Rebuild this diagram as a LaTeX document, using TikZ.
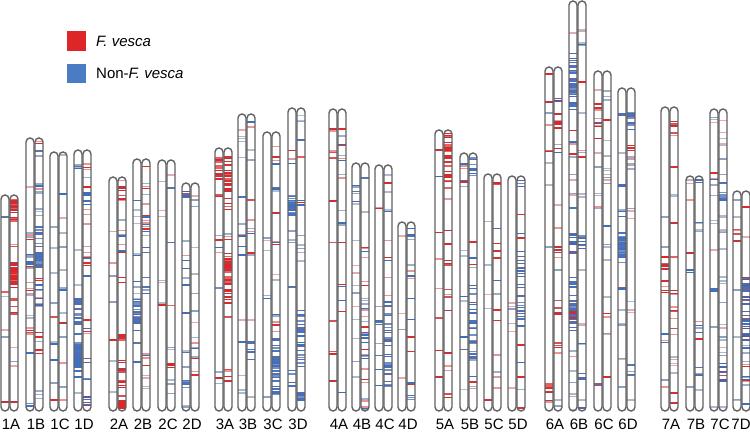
\documentclass[tikz,border=0pt]{standalone}
\usepackage{fontspec}
\setmainfont{Liberation Sans}
\definecolor{fred}{RGB}{222,38,40}
\definecolor{fblue}{RGB}{74,124,196}
\definecolor{cr1}{RGB}{224,38,38}
\definecolor{cr2}{RGB}{196,50,62}
\definecolor{cr3}{RGB}{232,150,150}
\definecolor{cr4}{RGB}{214,84,88}
\definecolor{cR1}{RGB}{226,36,36}
\definecolor{cR2}{RGB}{218,48,50}
\definecolor{cR3}{RGB}{200,46,62}
\definecolor{cR4}{RGB}{232,96,96}
\definecolor{cb1}{RGB}{62,110,190}
\definecolor{cb2}{RGB}{150,170,198}
\definecolor{cb3}{RGB}{88,118,172}
\definecolor{cb4}{RGB}{176,192,212}
\definecolor{cB1}{RGB}{66,112,190}
\definecolor{cB2}{RGB}{72,116,196}
\definecolor{cB3}{RGB}{90,108,172}
\definecolor{cB4}{RGB}{116,144,196}
\definecolor{cm1}{RGB}{62,110,190}
\definecolor{cm2}{RGB}{220,45,45}
\definecolor{cm3}{RGB}{156,174,200}
\definecolor{cm4}{RGB}{228,150,155}
\definecolor{cl1}{RGB}{172,186,206}
\definecolor{cl2}{RGB}{182,182,192}
\definecolor{cl3}{RGB}{226,172,176}
\definecolor{cl4}{RGB}{142,162,192}
\definecolor{cp1}{RGB}{104,82,150}
\definecolor{cp2}{RGB}{80,100,170}
\definecolor{cp3}{RGB}{140,90,140}
\definecolor{cp4}{RGB}{62,110,190}
\tikzset{
  band/.style={line width=1.4pt},
  colout/.style={draw=black!62, line width=1.4pt, rounded corners=4pt},
  lab/.style={font=\fontsize{15}{15}\selectfont, inner sep=0pt},
  legtext/.style={font=\fontsize{15}{15}\selectfont, inner sep=0pt, anchor=west}
}
\newcommand\Col[3]{%
  \begin{scope}
    \clip[rounded corners=4pt] ({#1},{#2}) rectangle ({#1+8},411);
    \foreach \ya/\yb/\nn/\tyy in {#3}{%
      \ifnum\nn=0\relax
        \edef\bcol{c\tyy1}%
        \fill[\bcol] ({#1},\ya) rectangle ({#1+8},\yb);
      \else
      \foreach \i in {1,...,\nn}{%
        \pgfmathsetmacro\yy{\ya+rnd*(\yb-\ya)}%
        \pgfmathrandominteger\kk{1}{4}%
        \edef\bcol{c\tyy\kk}%
        \draw[band,draw=\bcol] ({#1},\yy) -- ({#1+8},\yy);
      }%
      \fi}
  \end{scope}
  \draw[colout] ({#1},{#2}) rectangle ({#1+8},411);
}
\newcommand\Pair[6][0]{%
  \Col{#2}{#3}{#5}%
  \Col{#2+9}{#3}{#6}%
  \node[lab] (n#4) at ({#2+10+#1},424) {#4};
}
\begin{document}
\begin{tikzpicture}[x=1pt,y=-1pt]
\useasboundingbox (0,0) rectangle (750,432);
\pgfmathsetseed{7}
% legend
\fill[fred] (67,31) rectangle (86,51);
\node[legtext] (lf) at (96,41) {\textit{F. vesca}};
\fill[fblue] (67,64) rectangle (86,83);
\node[legtext] (ln) at (96,73) {Non-\textit{F. vesca}};
% group 1
\Pair{1}{195}{1A}{217/217/1/b, 292/292/1/R, 337/337/1/l, 402/402/1/r, 250/380/2/l}
  {200/208/0/R, 198/222/16/R, 240/250/2/r, 268/282/0/R, 263/290/18/R, 298/318/6/r, 330/400/3/l, 402/402/1/r}
\Pair{26}{138}{1B}{187/187/1/l, 232/247/8/m, 253/270/8/m, 282/297/5/m, 327/337/4/r, 353/353/1/b, 403/410/3/B, 200/380/4/l}
  {140/144/2/r, 150/163/3/b, 183/197/5/m, 207/217/3/b, 227/247/10/B, 255/263/0/B, 250/270/10/B, 277/307/12/m, 327/363/6/m, 390/407/3/m}
\Pair{50}{152}{1C}{227/227/1/b, 248/248/1/l, 273/273/1/l, 303/303/1/l, 317/317/1/r, 340/345/2/b, 359/360/2/p, 383/383/1/l, 400/400/1/r}
  {155/155/1/l, 193/197/2/b, 218/218/1/l, 233/233/1/l, 247/247/1/l, 270/270/1/l, 287/293/2/m, 313/313/1/l, 323/323/1/r, 337/337/1/l, 363/363/1/r, 387/387/1/l, 400/400/1/r}
\Pair{74}{150}{1D}{162/173/4/b, 250/250/1/b, 280/287/3/b, 297/337/20/B, 342/368/0/B, 340/372/16/B, 377/377/1/p, 393/393/1/l}
  {157/230/12/m, 187/187/1/R, 240/280/8/m, 317/337/4/m, 357/363/2/p, 377/380/3/B, 397/407/5/p}
% group 2
\Pair{109}{177}{2A}{215/400/6/l, 263/263/1/r, 340/340/1/r}
  {179/200/6/r, 200/300/10/m, 333/342/5/R, 360/410/16/r, 401/409/0/r}
\Pair{133}{159}{2B}{190/300/12/b, 300/337/24/B, 343/343/1/b, 362/362/1/B}
  {162/250/16/m, 250/300/6/b, 352/368/8/m, 370/400/4/l}
\Pair{158}{160}{2C}{180/400/6/l, 305/305/1/r}
  {175/175/1/l, 188/188/1/b, 240/250/2/b, 305/306/2/R, 320/400/6/l, 363/370/4/r}
\Pair{182}{183}{2D}{186/200/4/p, 220/300/6/m, 312/315/2/b, 350/353/2/b, 367/367/1/l, 380/388/6/B, 403/407/2/l}
  {190/200/2/l, 200/330/6/l, 333/377/10/m, 375/375/1/R}
% group 3
\Pair{215}{148}{3A}{157/180/12/R, 190/197/2/r, 225/253/5/m, 288/288/1/B, 367/397/5/m}
  {150/210/22/R, 227/247/4/m, 258/268/0/R, 253/303/28/R, 317/317/1/r, 363/387/5/r}
\Pair{238}{114}{3B}{120/163/5/l, 197/197/1/B, 213/273/6/m, 320/320/1/l, 340/347/2/b, 367/393/3/l}
  {120/123/1/b, 127/127/1/r, 150/150/1/b, 160/160/1/b, 200/200/1/r, 217/237/4/m, 250/257/3/m, 320/320/1/l, 340/363/10/B, 397/397/1/l}
\Pair{263}{132}{3C}{237/260/3/l, 290/300/2/m, 397/397/1/l}
  {143/167/4/m, 183/193/4/b, 213/213/1/r, 230/247/3/m, 273/283/3/l, 313/333/6/m, 356/367/0/B, 337/400/26/B}
\Pair{288}{108}{3D}{150/167/4/m, 201/211/0/B, 195/217/12/B, 227/250/3/l, 287/287/1/b, 370/387/6/B}
  {113/143/6/b, 157/157/1/R, 200/207/3/m, 233/267/5/l, 307/367/30/B, 387/400/10/B}
% group 4
\Pair{329}{109}{4A}{128/162/6/r, 190/400/6/r}
  {128/185/10/m, 200/410/10/m}
\Pair{352}{163}{4B}{185/205/7/b, 240/410/10/l}
  {178/178/1/b, 212/212/1/l, 230/280/5/m, 280/410/32/m}
\Pair{375}{165}{4C}{207/210/2/r, 290/410/8/b}
  {175/175/1/l, 183/183/1/r, 192/192/1/l, 207/213/3/b, 230/300/6/m, 300/400/28/B}
\Pair{398}{222}{4D}{230/400/4/l}
  {225/240/4/b, 250/390/10/m, 395/405/3/B}
% group 5
\Pair{435}{130}{5A}{150/150/1/r, 173/177/2/p, 220/400/6/r}
  {145/152/0/R, 132/195/26/R, 195/410/16/r}
\Pair{460}{153}{5B}{162/188/8/m, 200/410/8/b}
  {158/188/8/B, 200/280/5/m, 280/360/24/B, 360/410/5/m}
\Pair{484}{174}{5C}{200/380/4/l, 400/400/1/r}
  {182/188/2/r, 200/410/12/m}
\Pair{508}{176}{5D}{190/400/6/l}
  {178/187/4/B, 200/250/3/m, 250/330/22/B, 340/400/4/m, 408/408/1/R}
% group 6
\Pair{545}{67}{6A}{74/74/1/r, 102/102/1/R, 113/113/1/l, 125/125/1/r, 150/152/2/R, 163/163/1/l, 185/185/1/l, 247/247/1/l, 380/393/14/R, 400/403/2/r}
  {97/103/3/p, 110/130/6/r, 143/167/3/m, 205/205/1/l, 228/228/1/r, 243/260/4/r, 270/270/1/l, 300/327/6/r, 343/357/5/r, 400/407/2/l}
\Pair{569}{1}{6B}{33/33/1/l, 84/94/0/B, 53/110/26/B, 130/157/6/m, 167/200/4/l, 208/208/1/B, 233/257/10/p, 277/297/8/B, 303/318/0/B, 300/333/16/B, 310/325/3/R, 347/357/3/m, 367/400/4/l, 410/410/1/b}
  {27/33/2/l, 42/47/3/b, 82/82/1/R, 113/113/1/l, 147/157/3/m, 193/200/2/l, 233/250/6/B, 270/270/1/l, 320/327/2/l, 340/347/2/b, 373/380/3/B, 400/400/1/l, 408/408/1/p}
\Pair{594}{71}{6C}{90/90/1/l, 100/127/10/m, 137/140/1/r, 153/153/1/l, 167/167/1/l, 190/200/2/l, 205/217/3/m, 383/385/2/p}
  {90/100/3/m, 120/120/1/r, 127/187/8/l, 223/227/2/b, 243/247/2/l, 260/260/1/l, 297/297/1/l, 312/318/2/r, 330/340/2/l, 377/377/1/r}
\Pair{618}{88}{6D}{113/123/3/B, 153/153/1/l, 183/188/4/B, 207/217/3/m, 237/258/0/B, 233/263/16/B, 287/290/2/p, 310/310/1/l, 323/330/2/l, 357/360/2/l, 387/387/1/l}
  {110/130/12/B, 130/173/10/m, 200/233/4/l, 297/313/3/l, 363/377/4/b, 400/400/1/l}
% group 7
\Pair{661}{107}{7A}{217/217/1/l, 247/247/1/l, 257/257/1/R, 263/277/4/r, 280/293/4/r, 333/347/4/m, 380/380/1/l, 387/387/1/r}
  {110/137/5/r, 167/167/1/R, 193/203/2/l, 223/223/1/r, 257/257/1/R, 290/300/4/r, 307/320/4/r, 327/337/2/r, 353/367/4/l, 373/373/1/l, 393/393/1/r, 403/403/1/r}
\Pair{686}{176}{7B}{180/187/2/l, 200/200/1/r, 253/253/1/r, 270/273/2/p, 387/387/1/l}
  {178/183/4/B, 222/233/4/b, 320/343/6/m, 367/377/4/b, 390/390/1/l}
\Pair{710}{109}{7C}{113/130/3/l, 170/200/6/m, 217/227/2/l, 250/250/1/l, 287/293/4/B, 327/327/1/l, 407/407/1/l}
  {117/180/8/l, 183/200/8/B, 210/250/6/l, 257/360/12/l, 363/383/10/p, 407/407/1/l}
\Pair[-2]{733}{191}{7D}{200/200/1/l, 217/217/1/l, 227/243/4/r, 290/290/1/l, 337/337/1/l, 390/403/2/l}
  {207/207/1/R, 237/237/1/l, 283/292/0/B, 277/343/30/p, 343/410/15/m}
\end{tikzpicture}
\end{document}
